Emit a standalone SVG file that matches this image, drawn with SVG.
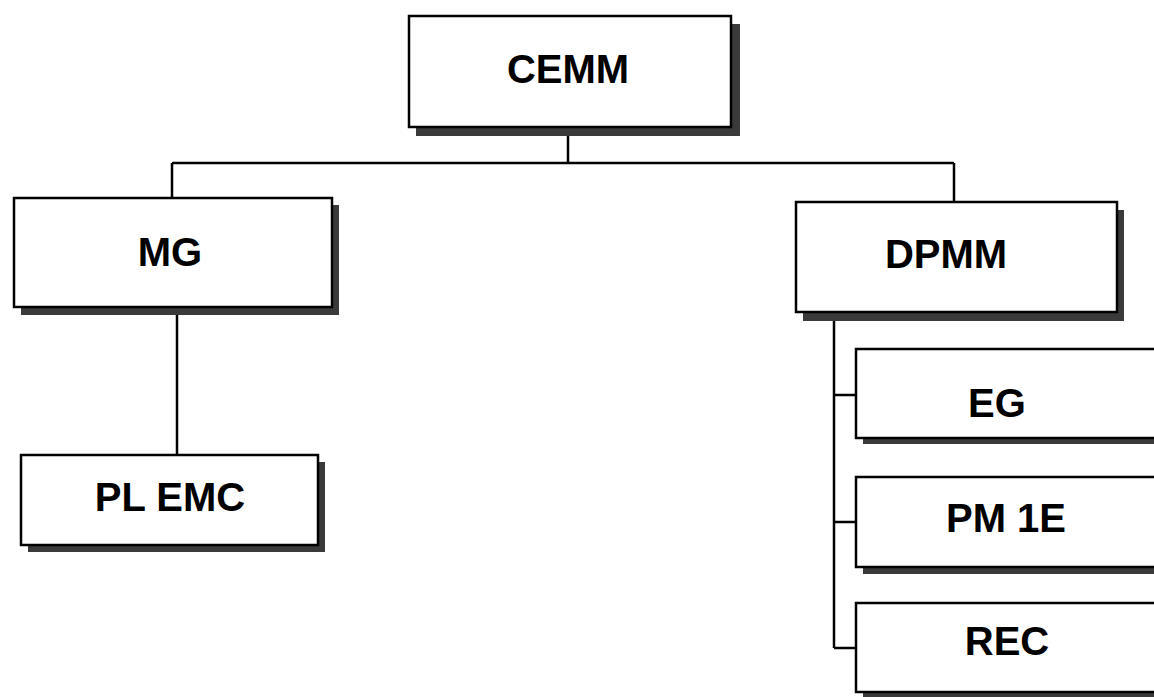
<svg xmlns="http://www.w3.org/2000/svg" width="1154" height="697" viewBox="0 0 1154 697">
<style>
.box{fill:#fff;stroke:#000;stroke-width:2.5}
.sh{fill:#3a3a3a}
.lbl{font-family:"Liberation Sans",Arial,sans-serif;font-weight:bold;font-size:40px;fill:#000;text-anchor:middle}
.ln{stroke:#000;stroke-width:2.5;fill:none}
</style>
<rect width="1154" height="697" fill="#fff"/>
<g id="connectors">
<path class="ln" d="M568 127 V163 M172 163 H954 M172 163 V198 M954 163 V202"/>
<path class="ln" d="M177 315 V455"/>
<path class="ln" d="M834 320 V648 M834 395 H856 M834 522 H856 M834 648 H856"/>
</g>
<g id="cemm">
<rect class="sh" x="416" y="24" width="324" height="112"/>
<rect class="box" x="409" y="16" width="322" height="111"/>
<text class="lbl" x="568" y="83">CEMM</text>
</g>
<g id="mg">
<rect class="sh" x="21" y="205" width="318" height="110"/>
<rect class="box" x="14" y="198" width="318" height="109"/>
<text class="lbl" x="170" y="266">MG</text>
</g>
<g id="plemc">
<rect class="sh" x="28" y="462" width="297" height="90"/>
<rect class="box" x="21" y="455" width="297" height="90"/>
<text class="lbl" x="170" y="511">PL EMC</text>
</g>
<g id="dpmm">
<rect class="sh" x="803" y="210" width="321" height="111"/>
<rect class="box" x="796" y="202" width="321" height="110"/>
<text class="lbl" x="946" y="268">DPMM</text>
</g>
<g id="eg">
<rect class="sh" x="863" y="356" width="320" height="88"/>
<rect class="box" x="856" y="349" width="320" height="89"/>
<text class="lbl" x="997" y="417">EG</text>
</g>
<g id="pm1e">
<rect class="sh" x="863" y="484" width="320" height="90"/>
<rect class="box" x="856" y="477" width="320" height="90"/>
<text class="lbl" x="1006" y="532">PM 1E</text>
</g>
<g id="rec">
<rect class="sh" x="863" y="610" width="320" height="89"/>
<rect class="box" x="856" y="603" width="320" height="89"/>
<text class="lbl" x="1007" y="655">REC</text>
</g>
</svg>
